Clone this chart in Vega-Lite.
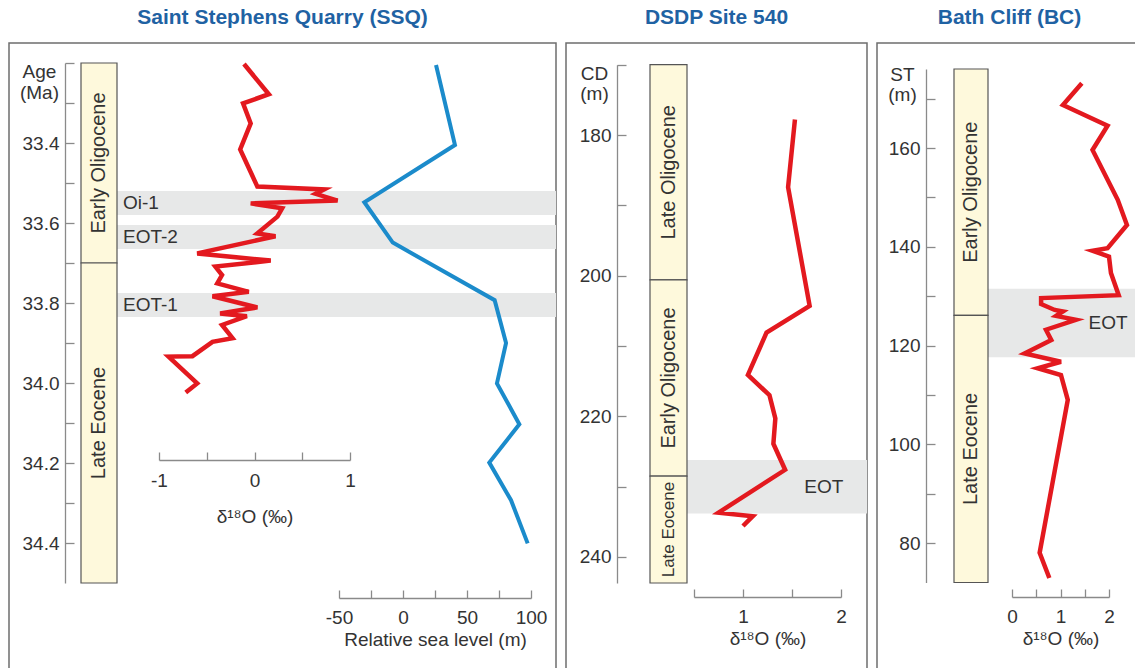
{
  "$schema": "https://vega.github.io/schema/vega-lite/v6.json",
  "padding": {"left": 8, "top": 6, "right": 0, "bottom": 0},
  "datasets": {
    "ssq_stages": [
      {"name": "Early Oligocene", "top": 33.2, "bottom": 33.7},
      {"name": "Late Eocene", "top": 33.7, "bottom": 34.5}
    ],
    "ssq_bands": [
      {"name": "Oi-1", "top": 33.52, "bottom": 33.58},
      {"name": "EOT-2", "top": 33.605, "bottom": 33.665},
      {"name": "EOT-1", "top": 33.775, "bottom": 33.835}
    ],
    "ssq_d18o": [
      {"age": 33.2025, "d": -0.11}, {"age": 33.278, "d": 0.15}, {"age": 33.301, "d": -0.12},
      {"age": 33.351, "d": -0.04}, {"age": 33.416, "d": -0.15}, {"age": 33.509, "d": 0.03},
      {"age": 33.516, "d": 0.73}, {"age": 33.527, "d": 0.64}, {"age": 33.544, "d": 0.87},
      {"age": 33.551, "d": -0.04}, {"age": 33.563, "d": 0.29}, {"age": 33.584, "d": 0.24},
      {"age": 33.626, "d": 0.03}, {"age": 33.633, "d": 0.22}, {"age": 33.676, "d": -0.6},
      {"age": 33.694, "d": 0.17}, {"age": 33.709, "d": -0.41}, {"age": 33.73, "d": -0.34},
      {"age": 33.751, "d": -0.39}, {"age": 33.772, "d": -0.06}, {"age": 33.783, "d": -0.44},
      {"age": 33.811, "d": 0.03}, {"age": 33.826, "d": -0.36}, {"age": 33.833, "d": -0.08},
      {"age": 33.855, "d": -0.34}, {"age": 33.888, "d": -0.23}, {"age": 33.897, "d": -0.44},
      {"age": 33.933, "d": -0.65}, {"age": 33.934, "d": -0.9}, {"age": 34.001, "d": -0.6},
      {"age": 34.024, "d": -0.72}
    ],
    "ssq_sl": [
      {"age": 33.205, "sl": 25.8}, {"age": 33.405, "sl": 40.6}, {"age": 33.548, "sl": -30.2},
      {"age": 33.649, "sl": -8.0}, {"age": 33.793, "sl": 71.6}, {"age": 33.9, "sl": 80.5},
      {"age": 34.001, "sl": 73.4}, {"age": 34.103, "sl": 90.9}, {"age": 34.199, "sl": 67.4},
      {"age": 34.293, "sl": 84.4}, {"age": 34.401, "sl": 97.4}
    ],
    "dsdp_stages": [
      {"name": "Late Oligocene", "top": 170, "bottom": 200.6},
      {"name": "Early Oligocene", "top": 200.6, "bottom": 228.5},
      {"name": "Late Eocene", "top": 228.5, "bottom": 243.7}
    ],
    "dsdp_bands": [
      {"name": "EOT", "top": 226.2, "bottom": 233.8}
    ],
    "dsdp_d18o": [
      {"cd": 177.8, "d": 1.53}, {"cd": 187.4, "d": 1.46}, {"cd": 204.3, "d": 1.68},
      {"cd": 208.1, "d": 1.24}, {"cd": 214.1, "d": 1.05}, {"cd": 217.0, "d": 1.27},
      {"cd": 220.3, "d": 1.33}, {"cd": 223.9, "d": 1.31}, {"cd": 227.6, "d": 1.43},
      {"cd": 233.7, "d": 0.75}, {"cd": 234.2, "d": 1.1}, {"cd": 235.6, "d": 1.0}
    ],
    "bc_stages": [
      {"name": "Early Oligocene", "top": 176, "bottom": 126.1},
      {"name": "Late Eocene", "top": 126.1, "bottom": 72}
    ],
    "bc_bands": [
      {"name": "EOT", "top": 131.5, "bottom": 117.6}
    ],
    "bc_d18o": [
      {"st": 173.1, "d": 1.44}, {"st": 168.7, "d": 1.05}, {"st": 164.5, "d": 1.97},
      {"st": 159.6, "d": 1.66}, {"st": 149.5, "d": 2.18}, {"st": 144.4, "d": 2.37},
      {"st": 139.7, "d": 1.97}, {"st": 139.2, "d": 1.66}, {"st": 138.0, "d": 2.0},
      {"st": 134.7, "d": 2.04}, {"st": 130.2, "d": 2.2}, {"st": 129.6, "d": 0.6},
      {"st": 128.4, "d": 0.6}, {"st": 127.2, "d": 0.88}, {"st": 126.9, "d": 1.05},
      {"st": 126.0, "d": 0.91}, {"st": 125.2, "d": 1.32}, {"st": 123.2, "d": 0.7},
      {"st": 121.1, "d": 0.81}, {"st": 118.4, "d": 0.26}, {"st": 116.7, "d": 1.01},
      {"st": 115.4, "d": 0.53}, {"st": 114.0, "d": 1.01}, {"st": 109.0, "d": 1.15},
      {"st": 78.0, "d": 0.57}, {"st": 72.9, "d": 0.77}
    ]
  },
  "hconcat": [
    {
      "title": "Saint Stephens Quarry (SSQ)",
      "width": 547,
      "height": 640,
      "resolve": {"scale": {"x": "independent"}, "axis": {"x": "independent"}},
      "layer": [
        {
          "data": {"name": "ssq_bands"},
          "mark": {"type": "rect", "fill": "#e7e8e8"},
          "encoding": {
            "x": {"datum": 0, "type": "quantitative", "scale": {"domain": [0, 1], "range": [108, 547]}, "axis": null},
            "x2": {"datum": 1},
            "y": {
              "field": "top", "type": "quantitative",
              "scale": {"domain": [33.2, 34.5], "range": [20, 540], "nice": false, "zero": false},
              "axis": {
                "offset": -56,
                "values": [33.2, 33.3, 33.4, 33.5, 33.6, 33.7, 33.8, 33.9, 34.0, 34.1, 34.2, 34.3, 34.4],
                "labelExpr": "(datum.value > 33.25 && round(datum.value * 10) % 2 == 0) ? format(datum.value, '.1f') : ''",
                "title": ["Age", "(Ma)"],
                "titleAngle": 0, "titleAlign": "center", "titleBaseline": "top",
                "titleX": -26, "titleY": 19, "titleLineHeight": 21
              }
            },
            "y2": {"field": "bottom"}
          }
        },
        {
          "data": {"name": "ssq_bands"},
          "transform": [{"calculate": "(datum.top + datum.bottom) / 2", "as": "mid"}],
          "mark": {"type": "text", "align": "left", "baseline": "middle", "dx": 6, "fontSize": 19, "color": "#333333"},
          "encoding": {
            "x": {"datum": 0, "type": "quantitative", "scale": {"domain": [0, 1], "range": [108, 547]}, "axis": null},
            "y": {"field": "mid", "type": "quantitative"},
            "text": {"field": "name"}
          }
        },
        {
          "data": {"name": "ssq_stages"},
          "mark": {"type": "rect", "fill": "#fef9dc", "stroke": "#555555", "strokeWidth": 1.2},
          "encoding": {
            "x": {"datum": 0, "type": "quantitative", "scale": {"domain": [0, 1], "range": [72, 108]}, "axis": null},
            "x2": {"datum": 1},
            "y": {"field": "top", "type": "quantitative"},
            "y2": {"field": "bottom"}
          }
        },
        {
          "data": {"name": "ssq_stages"},
          "transform": [{"calculate": "(datum.top + datum.bottom) / 2", "as": "mid"}],
          "mark": {"type": "text", "angle": 270, "align": "center", "baseline": "middle", "fontSize": 20, "color": "#333333"},
          "encoding": {
            "x": {"datum": 0.5, "type": "quantitative", "scale": {"domain": [0, 1], "range": [72, 108]}, "axis": null},
            "y": {"field": "mid", "type": "quantitative"},
            "text": {"field": "name"}
          }
        },
        {
          "data": {"name": "ssq_d18o"},
          "mark": {"type": "line", "color": "#e3191f", "strokeWidth": 4.5},
          "encoding": {
            "x": {
              "field": "d", "type": "quantitative",
              "scale": {"domain": [-1, 1], "range": [150, 341], "nice": false, "zero": false},
              "axis": {
                "orient": "bottom", "offset": -223, "tickSize": -8, "labelPadding": 19,
                "values": [-1, -0.5, 0, 0.5, 1],
                "labelExpr": "datum.value % 1 == 0 ? '' + datum.value : ''",
                "title": "δ¹⁸O (‰)", "titlePadding": 17
              }
            },
            "y": {"field": "age", "type": "quantitative"},
            "order": {"field": "age", "type": "quantitative"}
          }
        },
        {
          "data": {"name": "ssq_sl"},
          "mark": {"type": "line", "color": "#1b8bcb", "strokeWidth": 4},
          "encoding": {
            "x": {
              "field": "sl", "type": "quantitative",
              "scale": {"domain": [-50, 100], "range": [330, 522], "nice": false, "zero": false},
              "axis": {
                "orient": "bottom", "offset": -85, "tickSize": -8, "labelPadding": 18,
                "values": [-50, -25, 0, 25, 50, 75, 100],
                "labelExpr": "datum.value % 50 == 0 ? '' + datum.value : ''",
                "title": "Relative sea level (m)", "titlePadding": 3
              }
            },
            "y": {"field": "age", "type": "quantitative"},
            "order": {"field": "age", "type": "quantitative"}
          }
        }
      ]
    },
    {
      "title": "DSDP Site 540",
      "width": 301,
      "height": 640,
      "resolve": {"scale": {"x": "independent"}, "axis": {"x": "independent"}},
      "layer": [
        {
          "data": {"name": "dsdp_bands"},
          "mark": {"type": "rect", "fill": "#e7e8e8"},
          "encoding": {
            "x": {"datum": 0, "type": "quantitative", "scale": {"domain": [0, 1], "range": [121, 301]}, "axis": null},
            "x2": {"datum": 1},
            "y": {
              "field": "top", "type": "quantitative",
              "scale": {"domain": [170, 243.7], "range": [21.7, 540], "nice": false, "zero": false},
              "axis": {
                "offset": -51,
                "values": [170, 180, 190, 200, 210, 220, 230, 240],
                "labelExpr": "(datum.value > 175 && datum.value % 20 == 0) ? '' + datum.value : ''",
                "title": ["CD", "(m)"],
                "titleAngle": 0, "titleAlign": "center", "titleBaseline": "top",
                "titleX": -23, "titleY": 21, "titleLineHeight": 20
              }
            },
            "y2": {"field": "bottom"}
          }
        },
        {
          "data": {"name": "dsdp_bands"},
          "transform": [{"calculate": "(datum.top + datum.bottom) / 2", "as": "mid"}],
          "mark": {"type": "text", "align": "center", "baseline": "middle", "fontSize": 19, "color": "#333333"},
          "encoding": {
            "x": {"datum": 0.76, "type": "quantitative", "scale": {"domain": [0, 1], "range": [121, 301]}, "axis": null},
            "y": {"field": "mid", "type": "quantitative"},
            "text": {"field": "name"}
          }
        },
        {
          "data": {"name": "dsdp_stages"},
          "mark": {"type": "rect", "fill": "#fef9dc", "stroke": "#555555", "strokeWidth": 1.2},
          "encoding": {
            "x": {"datum": 0, "type": "quantitative", "scale": {"domain": [0, 1], "range": [84, 121]}, "axis": null},
            "x2": {"datum": 1},
            "y": {"field": "top", "type": "quantitative"},
            "y2": {"field": "bottom"}
          }
        },
        {
          "data": {"name": "dsdp_stages"},
          "transform": [
            {"filter": "datum.name != 'Late Eocene'"},
            {"calculate": "(datum.top + datum.bottom) / 2", "as": "mid"}
          ],
          "mark": {"type": "text", "angle": 270, "align": "center", "baseline": "middle", "fontSize": 20, "color": "#333333"},
          "encoding": {
            "x": {"datum": 0.5, "type": "quantitative", "scale": {"domain": [0, 1], "range": [84, 121]}, "axis": null},
            "y": {"field": "mid", "type": "quantitative"},
            "text": {"field": "name"}
          }
        },
        {
          "data": {"name": "dsdp_stages"},
          "transform": [
            {"filter": "datum.name == 'Late Eocene'"},
            {"calculate": "(datum.top + datum.bottom) / 2", "as": "mid"}
          ],
          "mark": {"type": "text", "angle": 270, "align": "center", "baseline": "middle", "fontSize": 17, "color": "#333333"},
          "encoding": {
            "x": {"datum": 0.5, "type": "quantitative", "scale": {"domain": [0, 1], "range": [84, 121]}, "axis": null},
            "y": {"field": "mid", "type": "quantitative"},
            "text": {"field": "name"}
          }
        },
        {
          "data": {"name": "dsdp_d18o"},
          "mark": {"type": "line", "color": "#e3191f", "strokeWidth": 4.5},
          "encoding": {
            "x": {
              "field": "d", "type": "quantitative",
              "scale": {"domain": [0.5, 2], "range": [128, 275], "nice": false, "zero": false},
              "axis": {
                "orient": "bottom", "offset": -86, "tickSize": -8, "labelPadding": 18,
                "values": [0.5, 1, 1.5, 2],
                "labelExpr": "datum.value % 1 == 0 ? '' + datum.value : ''",
                "title": "δ¹⁸O (‰)", "titlePadding": 3
              }
            },
            "y": {"field": "cd", "type": "quantitative"},
            "order": {"field": "cd", "type": "quantitative"}
          }
        }
      ]
    },
    {
      "title": "Bath Cliff (BC)",
      "width": 265,
      "height": 640,
      "resolve": {"scale": {"x": "independent"}, "axis": {"x": "independent"}},
      "layer": [
        {
          "data": {"name": "bc_bands"},
          "mark": {"type": "rect", "fill": "#e7e8e8"},
          "encoding": {
            "x": {"datum": 0, "type": "quantitative", "scale": {"domain": [0, 1], "range": [111, 265]}, "axis": null},
            "x2": {"datum": 1},
            "y": {
              "field": "top", "type": "quantitative",
              "scale": {"domain": [72, 176], "range": [539.5, 26], "nice": false, "zero": false},
              "axis": {
                "offset": -49,
                "values": [80, 90, 100, 110, 120, 130, 140, 150, 160, 170],
                "labelExpr": "datum.value % 20 == 0 ? '' + datum.value : ''",
                "title": ["ST", "(m)"],
                "titleAngle": 0, "titleAlign": "center", "titleBaseline": "top",
                "titleX": -24, "titleY": 22, "titleLineHeight": 20
              }
            },
            "y2": {"field": "bottom"}
          }
        },
        {
          "data": {"name": "bc_bands"},
          "transform": [{"calculate": "(datum.top + datum.bottom) / 2", "as": "mid"}],
          "mark": {"type": "text", "align": "center", "baseline": "middle", "fontSize": 19, "color": "#333333"},
          "encoding": {
            "x": {"datum": 0.78, "type": "quantitative", "scale": {"domain": [0, 1], "range": [111, 265]}, "axis": null},
            "y": {"field": "mid", "type": "quantitative"},
            "text": {"field": "name"}
          }
        },
        {
          "data": {"name": "bc_stages"},
          "mark": {"type": "rect", "fill": "#fef9dc", "stroke": "#555555", "strokeWidth": 1.2},
          "encoding": {
            "x": {"datum": 0, "type": "quantitative", "scale": {"domain": [0, 1], "range": [77, 111]}, "axis": null},
            "x2": {"datum": 1},
            "y": {"field": "top", "type": "quantitative"},
            "y2": {"field": "bottom"}
          }
        },
        {
          "data": {"name": "bc_stages"},
          "transform": [{"calculate": "(datum.top + datum.bottom) / 2", "as": "mid"}],
          "mark": {"type": "text", "angle": 270, "align": "center", "baseline": "middle", "fontSize": 20, "color": "#333333"},
          "encoding": {
            "x": {"datum": 0.5, "type": "quantitative", "scale": {"domain": [0, 1], "range": [77, 111]}, "axis": null},
            "y": {"field": "mid", "type": "quantitative"},
            "text": {"field": "name"}
          }
        },
        {
          "data": {"name": "bc_d18o"},
          "mark": {"type": "line", "color": "#e3191f", "strokeWidth": 4.5},
          "encoding": {
            "x": {
              "field": "d", "type": "quantitative",
              "scale": {"domain": [0, 2], "range": [135, 232], "nice": false, "zero": false},
              "axis": {
                "orient": "bottom", "offset": -86, "tickSize": -8, "labelPadding": 18,
                "values": [0, 0.5, 1, 1.5, 2],
                "labelExpr": "datum.value % 1 == 0 ? '' + datum.value : ''",
                "title": "δ¹⁸O (‰)", "titlePadding": 3
              }
            },
            "y": {"field": "st", "type": "quantitative"},
            "order": {"field": "st", "type": "quantitative"}
          }
        }
      ]
    }
  ],
  "config": {
    "font": "Liberation Sans",
    "view": {"stroke": "#6e6e6e", "strokeWidth": 1.5},
    "concat": {"spacing": 8},
    "axis": {
      "grid": false,
      "labelFont": "Liberation Sans", "labelFontSize": 19, "labelColor": "#333333",
      "labelFlush": false, "labelOverlap": false, "labelBound": false,
      "titleFont": "Liberation Sans", "titleFontSize": 19, "titleFontWeight": "normal", "titleColor": "#333333",
      "tickColor": "#8a8a8a", "domainColor": "#8a8a8a", "tickSize": -9, "labelPadding": 15,
      "tickWidth": 1.3, "domainWidth": 1.3
    },
    "title": {"font": "Liberation Sans", "fontSize": 21, "fontWeight": "bold", "color": "#1f62a3", "anchor": "middle", "offset": 15}
  }
}
